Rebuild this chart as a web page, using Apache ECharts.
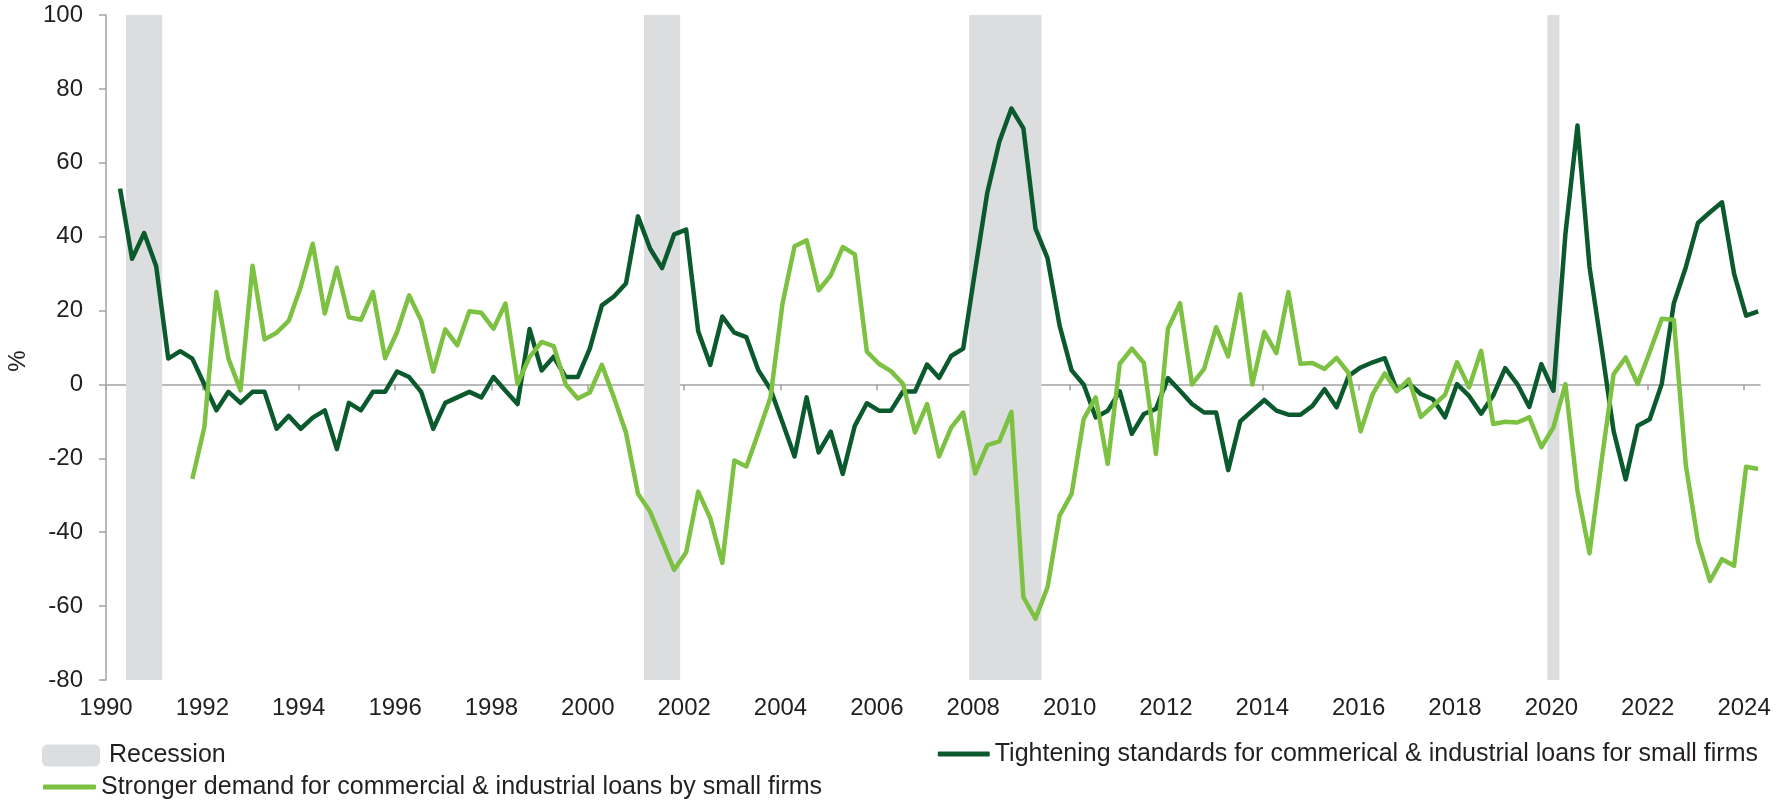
<!DOCTYPE html>
<html>
<head>
<meta charset="utf-8">
<script src="https://cdn.jsdelivr.net/npm/echarts@6/dist/echarts.min.js"></script>
<style>
  html, body { margin: 0; padding: 0; background: #ffffff; }
  #chart { width: 1776px; height: 800px; }
</style>
</head>
<body>
<div id="chart"></div>
<script>
// quarterly survey dates (Jan / Apr / Jul / Oct), 1990-04 .. 2024-04
const surveyDates = [];
for (let y = 1990; y <= 2024; y++) {
  for (const m of [1, 4, 7, 10]) {
    if ((y === 1990 && m < 4) || (y === 2024 && m > 4)) continue;
    surveyDates.push(y + '-' + String(m).padStart(2, '0'));
  }
}

// net % of banks tightening standards, small firms (from 1990-04)
const tightening = [
  53, 34, 41, 32, 7, 9, 7, 0, -7, -2, -5, -2,
  -2, -12, -8.5, -12, -9, -7, -17.5, -5, -7, -2, -2, 3.5,
  2, -2, -12, -5, -3.5, -2, -3.5, 2, -1.7, -5.3, 15, 3.8,
  7.5, 2, 2, 9.7, 21.4, 23.8, 27.3, 45.5, 36.8, 31.5, 40.6, 41.9,
  14.4, 5.3, 18.4, 14, 12.8, 3.8, -1.3, -10.3, -19.5, -3.5, -18.4, -12.8,
  -24.2, -11.2, -5.1, -7.1, -7.1, -1.9, -1.9, 5.4, 1.8, 7.7, 9.7, 31,
  51.9, 65.7, 74.7, 69.3, 42.2, 34.2, 16, 3.8, 0, -8.9, -7.1, -1.9,
  -13.4, -8, -6.6, 1.7, -1.7, -5.3, -7.6, -7.6, -23.2, -10, -7.1, -4.2,
  -7.1, -8.2, -8.2, -5.8, -1.3, -6.2, 2.3, 4.6, 6, 7.1, -1.5, 0.3,
  -2.6, -4, -8.9, 0.1, -3.1, -7.9, -3, 4.4, 0.1, -6.1, 5.5, -1.7,
  40.8, 70.1, 31.8, 10, -12.6, -25.7, -11.2, -9.4, 0.2, 22, 31.8, 43.7,
  46.6, 49.3, 30, 18.6, 19.8
];

// net % of banks reporting stronger demand, small firms (from 1991-10)
const demand = [
  -25.6, -11.6, 25, 7, -1.6, 32.1, 12.2, 14, 17.2, 26.4, 38.1, 19.2,
  31.6, 18.2, 17.5, 25, 7.1, 14.2, 24.1, 17.3, 3.5, 14.9, 10.6, 19.8,
  19.4, 15.1, 21.9, 0.2, 7.4, 11.5, 10.4, 0, -3.8, -2.2, 5.3, -3.5,
  -13, -29.6, -34.4, -42.3, -50.2, -45.4, -29, -36.2, -48.3, -20.6, -22.2, -13,
  -3.5, 21.9, 37.4, 39, 25.5, 29.5, 37.2, 35.2, 8.9, 5.6, 3.6, 0.2,
  -13, -5.3, -19.5, -11.7, -7.6, -24.1, -16.4, -15.4, -7.4, -57.6, -63.4, -54.9,
  -35.5, -29.6, -9.4, -3.5, -21.5, 5.6, 9.7, 5.8, -18.8, 15.1, 22, 0,
  4.2, 15.5, 7.6, 24.4, 0, 14.2, 8.5, 25, 5.6, 5.8, 4.2, 7.2,
  3.1, -12.7, -2.6, 3, -1.9, 1.4, -8.8, -5.8, -2.8, 6, -0.8, 9.1,
  -10.7, -10.1, -10.3, -8.9, -17, -11.6, 0.1, -28.8, -45.7, -20.7, 2.8, 7.3,
  0.1, 8.8, 17.8, 17.5, -22, -42.4, -53.2, -47.3, -49.1, -22.3, -22.9
];

// NBER recessions, start / end month
const recessions = [
  ['1990-06', '1991-03'],
  ['2001-03', '2001-12'],
  ['2007-12', '2009-06'],
  ['2019-12', '2020-03']
];

const yearTicks = [1990, 1992, 1994, 1996, 1998, 2000, 2002, 2004, 2006, 2008,
  2010, 2012, 2014, 2016, 2018, 2020, 2022, 2024];

const nameRecession = 'Recession';
const nameTight = 'Tightening standards for commerical & industrial loans for small firms';
const nameDemand = 'Stronger demand for commercial & industrial loans by small firms';

function midMonth(s) { return +s.slice(0, 4) + (+s.slice(5, 7) - 0.5) / 12; }
function monthStart(s) { return +s.slice(0, 4) + (+s.slice(5, 7) - 1) / 12; }

const tightData = tightening.map((v, i) => [midMonth(surveyDates[i]), v]);
const offset = surveyDates.length - demand.length;
const demandData = demand.map((v, i) => [midMonth(surveyDates[i + offset]), v]);

const FONT = "'Liberation Sans', Arial, sans-serif";
const TXT = '#231f20';
const AXIS = '#a3a3a3';

const chart = echarts.init(document.getElementById('chart'), null, {renderer: 'canvas'});
const option = {
  backgroundColor: '#ffffff',
  animation: false,
  textStyle: {fontFamily: FONT},
  grid: {left: 106, right: 16, top: 15, bottom: 120},
  graphic: [{
    type: 'text', x: 18, y: 361, rotation: Math.PI / 2,
    style: {text: '%', font: "24px 'Liberation Sans', Arial, sans-serif", fill: TXT,
      align: 'center', verticalAlign: 'middle'}
  }],
  xAxis: [
    {
      type: 'value', min: 1990, max: 2024.33, position: 'top',
      axisLine: {show: true, onZero: true, lineStyle: {color: AXIS, width: 1.5}},
      axisTick: {show: true, inside: true, length: 6, customValues: yearTicks,
        lineStyle: {color: AXIS, width: 1.5}},
      axisLabel: {show: false},
      splitLine: {show: false}
    },
    {
      type: 'value', min: 1990, max: 2024.33, position: 'bottom',
      axisLine: {show: false, onZero: false},
      axisTick: {show: false},
      axisLabel: {show: true, margin: 16, customValues: yearTicks,
        fontFamily: FONT, fontSize: 24, color: TXT, formatter: v => String(v)},
      splitLine: {show: false}
    }
  ],
  yAxis: {
    type: 'value', min: -80, max: 100, interval: 20,
    axisLine: {show: true, lineStyle: {color: AXIS, width: 1.5}},
    axisTick: {show: true, length: 7, lineStyle: {color: AXIS, width: 1.5}},
    axisLabel: {margin: 23, fontFamily: FONT, fontSize: 24, color: TXT},
    splitLine: {show: false}
  },
  legend: [
    {
      data: [nameRecession], left: 42, top: 743, padding: 0,
      icon: 'roundRect', itemWidth: 58, itemHeight: 22,
      textStyle: {fontFamily: FONT, fontSize: 25, color: TXT, padding: [0, 0, 0, 4]}
    },
    {
      data: [nameTight], right: 18, top: 741, padding: 0,
      icon: 'roundRect', itemWidth: 52, itemHeight: 5,
      textStyle: {fontFamily: FONT, fontSize: 25, color: TXT, lineHeight: 26}
    },
    {
      data: [nameDemand], left: 43, top: 774, padding: 0,
      icon: 'roundRect', itemWidth: 53, itemHeight: 5,
      textStyle: {fontFamily: FONT, fontSize: 25, color: TXT, lineHeight: 26}
    }
  ],
  series: [
    {
      name: nameRecession, type: 'line', data: [], z: 1,
      itemStyle: {color: '#dcdddf'},
      markArea: {
        silent: true,
        itemStyle: {color: '#dcdddf'},
        data: recessions.map(r => [{xAxis: monthStart(r[0])}, {xAxis: monthStart(r[1])}])
      }
    },
    {
      name: nameTight, type: 'line', data: tightData, z: 3,
      showSymbol: false, symbol: 'none',
      itemStyle: {color: '#0b5a2e'},
      lineStyle: {color: '#0b5a2e', width: 4.5, join: 'round'}
    },
    {
      name: nameDemand, type: 'line', data: demandData, z: 4,
      showSymbol: false, symbol: 'none',
      itemStyle: {color: '#7cc142'},
      lineStyle: {color: '#7cc142', width: 4.5, join: 'round'}
    }
  ]
};
chart.setOption(option);
</script>
</body>
</html>
